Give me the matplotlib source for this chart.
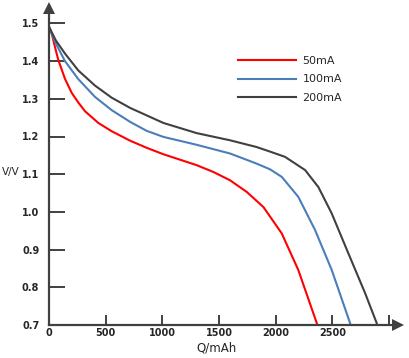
import matplotlib
matplotlib.use("Agg")
import matplotlib.pyplot as plt

# Data
q_50 = [0, 24, 53, 82, 141, 200, 259, 318, 435, 553, 715, 862, 1009, 1303, 1450, 1597, 1745, 1892, 2054, 2200, 2363]
v_50 = [1.491, 1.473, 1.437, 1.403, 1.353, 1.316, 1.290, 1.267, 1.236, 1.214, 1.189, 1.170, 1.153, 1.124, 1.106, 1.084, 1.053, 1.013, 0.943, 0.846, 0.705]

q_100 = [0, 53, 141, 259, 406, 553, 715, 862, 1009, 1303, 1597, 1833, 1950, 2054, 2200, 2348, 2495, 2657]
v_100 = [1.491, 1.451, 1.400, 1.352, 1.305, 1.270, 1.239, 1.215, 1.199, 1.178, 1.155, 1.128, 1.113, 1.093, 1.040, 0.952, 0.846, 0.705]

q_200 = [0, 60, 141, 259, 406, 553, 715, 1009, 1303, 1597, 1833, 1950, 2083, 2260, 2377, 2495, 2642, 2789, 2892]
v_200 = [1.491, 1.455, 1.420, 1.375, 1.335, 1.303, 1.276, 1.236, 1.209, 1.190, 1.172, 1.160, 1.146, 1.111, 1.066, 0.996, 0.890, 0.785, 0.705]

series_labels = ["50mA", "100mA", "200mA"]
series_colors = ["#FF0000", "#4A7EBB", "#404040"]

x_ticks = [0, 500, 1000, 1500, 2000, 2500, 3000]
x_tick_labels = ["0", "500", "1000", "1500", "2000", "2500", ""]
y_ticks = [0.7, 0.8, 0.9, 1.0, 1.1, 1.2, 1.3, 1.4, 1.5]
y_tick_labels = ["0.7", "0.8", "0.9", "1.0", "1.1", "1.2", "1.3", "1.4", "1.5"]

axis_color = "#404040"

fig = plt.figure(figsize=(4.09, 3.58), dpi=100)
ax = fig.add_axes([49/409, 33/358, (398-49)/409, (325-8)/358])

for q, v, lab, c in zip([q_50, q_100, q_200], [v_50, v_100, v_200], series_labels, series_colors):
    ax.plot(q, v, color=c, lw=1.5, label=lab, solid_joinstyle="round")

ax.set_xlim(0, 3080)
ax.set_ylim(0.7, 0.7 + 317/377)

for s in ["top", "right"]:
    ax.spines[s].set_visible(False)
for s in ["left", "bottom"]:
    ax.spines[s].set_color(axis_color)
    ax.spines[s].set_linewidth(1.6)

ax.set_xticks(x_ticks)
ax.set_xticklabels(x_tick_labels)
ax.set_yticks(y_ticks)
ax.set_yticklabels(y_tick_labels)
ax.tick_params(axis="y", direction="in", length=11.5, width=1.4, color=axis_color, pad=7,
               labelsize=7)
ax.tick_params(axis="x", direction="in", length=7.2, width=1.4, color=axis_color, pad=2,
               labelsize=7)
for t in ax.get_xticklabels() + ax.get_yticklabels():
    t.set_fontweight("bold")
    t.set_color("#262626")

# Axis arrows
ax.plot(0, 1, marker="^", transform=ax.transAxes, clip_on=False, ms=9, color=axis_color, mew=0)
ax.plot(1, 0, marker=">", transform=ax.transAxes, clip_on=False, ms=9, color=axis_color, mew=0)

fig.text(217/409, 1 - 348/358, "Q/mAh", ha="center", va="center", fontsize=8.5, color="#262626")
fig.text(10.5/409, 1 - 172/358, "V/V", ha="center", va="center", fontsize=7.5, color="#262626")

leg = ax.legend(loc="center left", bbox_to_anchor=(238/409, 1 - 79.5/358),
                bbox_transform=fig.transFigure, frameon=False, fontsize=8,
                handlelength=5.2, handletextpad=0.6, labelspacing=0.8,
                borderpad=0, borderaxespad=0)
for t in leg.get_texts():
    t.set_color("#262626")

fig.savefig("out.png", dpi=100)
